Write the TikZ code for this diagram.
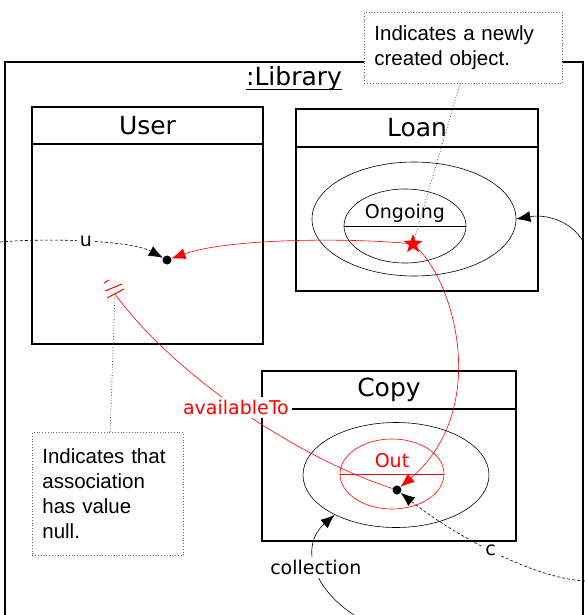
\documentclass[tikz,border=0pt]{standalone}
\usepackage{fontspec}
\setmainfont{DejaVu Sans}
\newfontfamily\notefont{Liberation Sans}
\usetikzlibrary{shapes.geometric, arrows.meta, positioning}
\tikzset{
  frame/.style={draw=black, line width=2pt, inner sep=0pt, outer sep=0pt},
  classhead/.style={draw=black, line width=1.5pt, inner sep=0pt, outer sep=0pt, font=\fontsize{25}{28}\selectfont},
  classbody/.style={draw=black, line width=1.5pt, inner sep=0pt, outer sep=0pt},
  state/.style={ellipse, draw=black, line width=0.6pt, inner sep=0pt},
  objdot/.style={circle, fill=black, inner sep=0pt, minimum size=9pt},
  note/.style={draw=black!60, dotted, line width=0.8pt, fill=white, align=left, inner xsep=10pt, font=\notefont\fontsize{20.5}{25}\selectfont},
  lbl/.style={fill=white, inner sep=3pt, font=\fontsize{19}{21}\selectfont}
}
\tikzstyle{arrow} = [line width=0.6pt, black, -{Latex[length=14pt,width=11pt]}]
\tikzstyle{redarrow} = [line width=0.6pt, red, -{Latex[length=14pt,width=11pt]}]
\tikzstyle{link} = [dash pattern=on 3pt off 2pt]
\tikzstyle{notelink} = [dotted, line width=0.8pt, black!70]

\begin{document}
\begin{tikzpicture}[x=1pt, y=-1pt]
    \useasboundingbox (0,0) rectangle (585,615);
    % the library object
    \node [frame, minimum width=578pt, minimum height=578pt, anchor=north west] (library) at (5,62) {};
    \node [inner sep=0pt, anchor=base, font=\fontsize{25}{28}\selectfont] (libname) at (294,86) {:Library};
    \draw [line width=1pt] ([yshift=-4pt]libname.base west) -- ([yshift=-4pt]libname.base east);

    % classes
    \node [classhead, minimum width=231pt, minimum height=37pt, anchor=north west] (userhead) at (32,107) {User};
    \node [classbody, minimum width=231pt, minimum height=200pt, below=0pt of userhead] (user) {};
    \node [classhead, minimum width=242pt, minimum height=38pt, anchor=north west] (loanhead) at (296,109) {Loan};
    \node [classbody, minimum width=242pt, minimum height=144pt, below=0pt of loanhead] (loan) {};
    \node [classhead, minimum width=254pt, minimum height=38pt, anchor=north west] (copyhead) at (262,371) {Copy};
    \node [classbody, minimum width=254pt, minimum height=132pt, below=0pt of copyhead] (copy) {};

    % states
    \node [state, minimum width=204pt, minimum height=114pt] (loanouter) at (414,219) {};
    \node [state, minimum width=122pt, minimum height=74pt] (ongoing) at (405,226) {};
    \draw [line width=0.6pt] (ongoing.west) -- (ongoing.east);
    \node [font=\fontsize{19}{21}\selectfont] (ongoingname) at (405,213) {Ongoing};
    \node [star, star points=5, star point ratio=2.4, fill=red, inner sep=0pt, minimum size=20pt] (newloan) at (413,244) {};

    \node [state, minimum width=186pt, minimum height=105pt] (copyouter) at (396,475) {};
    \node [state, draw=red, minimum width=104pt, minimum height=70pt] (out) at (392,474) {};
    \draw [red, line width=0.6pt] (out.west) -- (out.east);
    \node [red, font=\fontsize{19}{21}\selectfont] (outname) at (392,461) {Out};

    \node [objdot] (userdot) at (167,260) {};
    \node [objdot] (copydot) at (397,490) {};

    % free ends
    \coordinate (uin) at (0,242);
    \coordinate (cin) at (585,581);
    \coordinate (loanin) at (583,241);
    \coordinate (collin) at (362,620);
    \coordinate (nullend) at (115,294);

    % links
    \draw [arrow, link] (uin) .. controls (45,238) and (130,240) .. node[lbl] (ulabel) {u} (userdot);
    \draw [redarrow] (newloan) .. controls (350,238) and (230,238) .. (userdot);
    \draw [redarrow] (newloan) .. controls (455,285) and (490,410) .. (copydot);
    \draw [red, line width=0.6pt] (nullend) .. controls (170,370) and (290,455) .. node[lbl, text=red] (availlabel) {availableTo} (copydot);
    \draw [red, line width=1pt] ([shift={(-11,-11)}]nullend) -- ([shift={(-6,-14)}]nullend)
          ([shift={(-10,-3)}]nullend) -- ([shift={(7,-10)}]nullend)
          ([shift={(-8,4)}]nullend) -- ([shift={(9,-5)}]nullend);
    \draw [arrow, link] (cin) .. controls (530,578) and (450,532) .. node[lbl] (clabel) {c} (copydot);
    \draw [arrow] (loanin) .. controls (570,220) and (545,214) .. (loanouter.east);
    \draw [arrow] (collin) .. controls (310,590) and (300,545) .. node[lbl] (colllabel) {collection} (copyouter.213);

    % notes
    \node [note, text width=178pt, minimum height=71pt, anchor=north west] (newnote) at (364,12) {Indicates a newly\\created object.};
    \node [note, text width=131pt, minimum height=123pt, anchor=north west] (nullnote) at (32,432) {Indicates that\\association\\has value\\null.};
    \draw [notelink] (newnote.south -| 460,0) -- (newloan);
    \draw [notelink] (nullend) -- (nullnote);
\end{tikzpicture}
\end{document}
